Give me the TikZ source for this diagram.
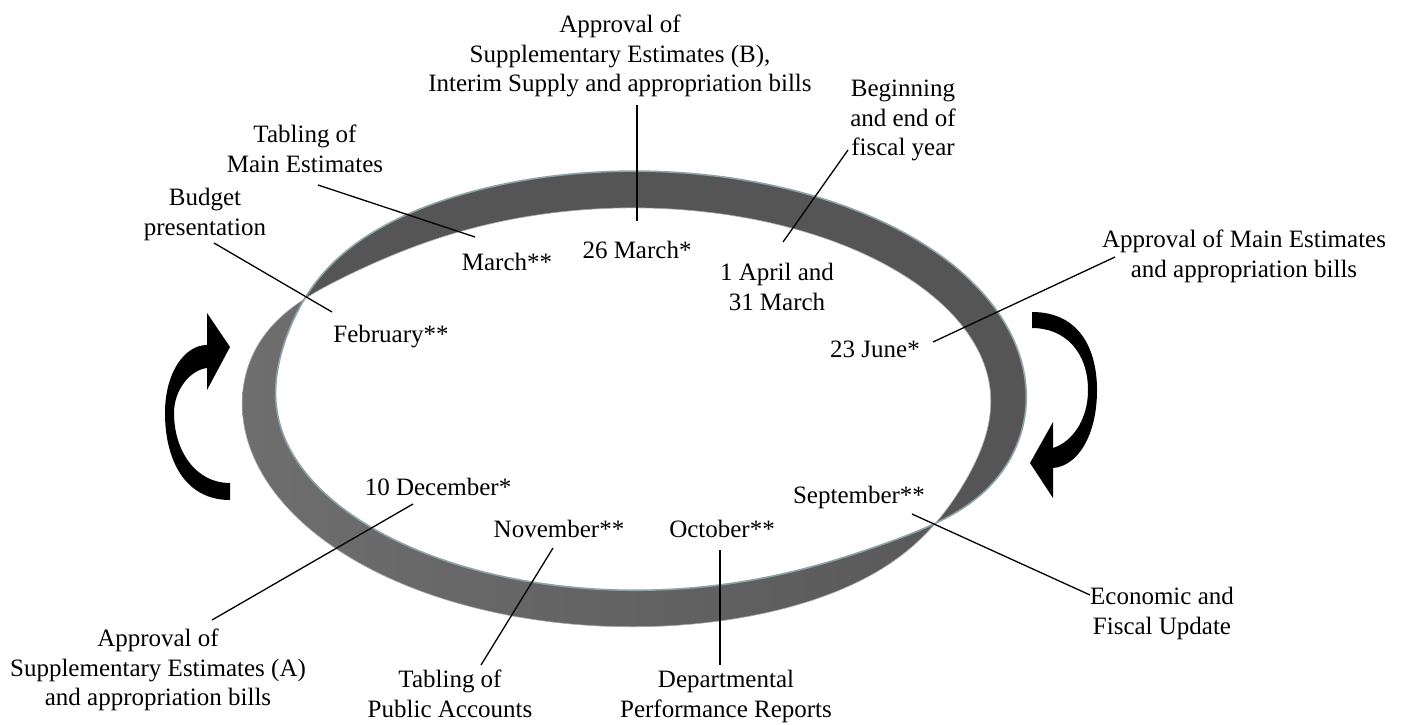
\documentclass[tikz,border=0pt]{standalone}
\usepackage{fontspec}
\setmainfont{Liberation Serif}
\begin{document}
\begin{tikzpicture}[x=1pt,y=-1pt,
  lbl/.style={font=\fontsize{25}{29.5}\selectfont, align=center, inner sep=0pt, anchor=north},
  lead/.style={line width=1.3pt, black},
  rim/.style={draw=rimcol, line width=1.6pt},
  blockarrow/.style={fill=black},
  declare function={
    sg(\t)=tanh(3.2*(cos(\t-302.45)+0.0689));
    nn(\t)=sqrt(cos(\t)^2+3.2*sin(\t)^2);
  },
]
\definecolor{rimcol}{HTML}{8FA3A6}
\definecolor{bandtop}{HTML}{555555}
\definecolor{bandleft}{HTML}{6E6E6E}
\definecolor{bandbot}{HTML}{585858}
\useasboundingbox (0,0) rectangle (1421,724);
% ---- twisted ring: two edges of a ribbon that crosses itself twice ----
\def\edgeA{plot[domain=0:360, samples=241, variable=\x, smooth]
  ({633.75+374.75*cos(\x)+18.5*sg(\x)*cos(\x)/nn(\x)},
   {399+209.5*sin(\x)+18.5*sg(\x)*1.789*sin(\x)/nn(\x)}) -- cycle}
\def\edgeB{plot[domain=0:360, samples=241, variable=\x, smooth]
  ({633.75+374.75*cos(\x)-18.5*sg(\x)*cos(\x)/nn(\x)},
   {399+209.5*sin(\x)-18.5*sg(\x)*1.789*sin(\x)/nn(\x)}) -- cycle}
\fill[bandtop] \edgeA;
\shade[left color=bandleft, right color=bandbot] \edgeB;
\begin{scope}
  \clip \edgeA;
  \fill[white] \edgeB;
\end{scope}
\draw[draw=gray!70, line width=0.6pt] \edgeB;
\draw[rim] \edgeA;
% ---- curved arrows ----
\fill[blockarrow] (230,500) .. controls (185,500) and (165,460) .. (165,413)
  .. controls (165,372) and (185,345) .. (207,345) -- (207,313) -- (230,347) -- (207,390) -- (207,368)
  .. controls (190,370) and (174,390) .. (174,413)
  .. controls (174,450) and (195,483) .. (230,483) -- cycle;
\fill[blockarrow] (1032,312) .. controls (1080,312) and (1097,350) .. (1097,390)
  .. controls (1097,435) and (1078,466) .. (1053,468) -- (1053,498) -- (1030,463) -- (1053,422) -- (1053,448)
  .. controls (1072,442) and (1088,420) .. (1088,390)
  .. controls (1088,352) and (1065,328) .. (1032,328) -- cycle;
% ---- labels ----
\node[lbl] (supB) at (620,15) {Approval of\\Supplementary Estimates (B),\\Interim Supply and appropriation bills};
\node[lbl] (mar26) at (637,241) {26 March*};
\node[lbl] (tabME) at (305,125) {Tabling of\\Main Estimates};
\node[lbl] (mar) at (507,253) {March**};
\node[lbl] (budget) at (205,188) {Budget\\presentation};
\node[lbl] (feb) at (391,325) {February**};
\node[lbl] (fiscal) at (903,80) {Beginning\\and end of\\fiscal year};
\node[lbl] (apr) at (777,263) {1 April and\\31 March};
\node[lbl] (jun) at (875,341) {23 June*};
\node[lbl] (mainEst) at (1244,230) {Approval of Main Estimates\\and appropriation bills};
\node[lbl] (dec) at (438,478) {10 December*};
\node[lbl] (supA) at (158,629) {Approval of\\Supplementary Estimates (A)\\and appropriation bills};
\node[lbl] (nov) at (559,520) {November**};
\node[lbl] (pubAcc) at (450,670) {Tabling of\\Public Accounts};
\node[lbl] (oct) at (722,520) {October**};
\node[lbl] (dpr) at (726,670) {Departmental\\Performance Reports};
\node[lbl] (sep) at (859,486) {September**};
\node[lbl] (efu) at (1162,587) {Economic and\\Fiscal Update};
% ---- leader end points ----
\coordinate (cSupB) at (637,105);   \coordinate (cMar26) at (637,221);
\coordinate (cTabME) at (318,185);  \coordinate (cMar) at (475,237);
\coordinate (cBud) at (214,243);    \coordinate (cFeb) at (332,312);
\coordinate (cFis) at (848,150);    \coordinate (cApr) at (783,242);
\coordinate (cJun) at (933,342);    \coordinate (cMain) at (1115,257);
\coordinate (cDec) at (413,504);    \coordinate (cSupA) at (212,620);
\coordinate (cNov) at (553,548);    \coordinate (cPub) at (481,665);
\coordinate (cOct) at (720,550);    \coordinate (cDpr) at (720,665);
\coordinate (cSep) at (912,514);    \coordinate (cEfu) at (1090,595);
\draw[lead] (cSupB) -- (cMar26);
\draw[lead] (cTabME) -- (cMar);
\draw[lead] (cBud) -- (cFeb);
\draw[lead] (cFis) -- (cApr);
\draw[lead] (cJun) -- (cMain);
\draw[lead] (cDec) -- (cSupA);
\draw[lead] (cNov) -- (cPub);
\draw[lead] (cOct) -- (cDpr);
\draw[lead] (cSep) -- (cEfu);
\end{tikzpicture}
\end{document}
